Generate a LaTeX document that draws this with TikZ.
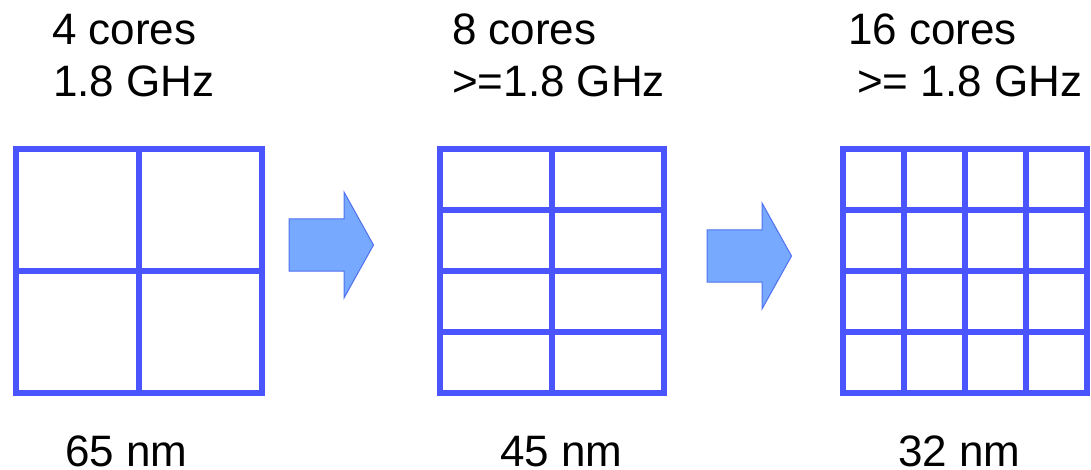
\documentclass[tikz,border=0pt]{standalone}
\usepackage{fontspec}
\setmainfont{Liberation Sans}
\definecolor{coreblue}{HTML}{4A55FF}
\definecolor{arrowfill}{HTML}{77AAFF}
\definecolor{arrowedge}{HTML}{5070F0}

\begin{document}
\begin{tikzpicture}[x=1pt, y=-1pt,
  gridline/.style={coreblue, line width=6.5pt},
  chiptext/.style={anchor=base west, inner sep=0pt, font=\fontsize{44}{50}\selectfont},
  blockarrow/.style={fill=arrowfill, draw=arrowedge, line width=1pt, line join=miter}]

\useasboundingbox (0,0) rectangle (1091,470);

% 65 nm chip: 4 cores
\draw[gridline] (16,149) rectangle (262,393);
\draw[gridline] (139,149) -- (139,393);
\draw[gridline] (16,271) -- (262,271);

% 45 nm chip: 8 cores
\draw[gridline] (440,149) rectangle (664,393);
\draw[gridline] (552,149) -- (552,393);
\foreach \y in {210,271,332}
  \draw[gridline] (440,\y) -- (664,\y);

% 32 nm chip: 16 cores
\draw[gridline] (843,149) rectangle (1087,393);
\foreach \x in {904,965,1026}
  \draw[gridline] (\x,149) -- (\x,393);
\foreach \y in {210,271,332}
  \draw[gridline] (843,\y) -- (1087,\y);

% Block arrows
\foreach \x/\y in {289/245, 707/256}
  \draw[blockarrow] (\x,\y-26) -- ++(55,0) -- ++(0,-27) -- ++(29.5,53)
    -- ++(-29.5,53) -- ++(0,-27) -- ++(-55,0) -- cycle;

% Core counts and clock
\node[chiptext] (cores4) at (52,45) {4 cores};
\node[chiptext] (clock4) at (53,97) {1.8 GHz};
\node[chiptext] (cores8) at (452,45) {8 cores};
\node[chiptext] (clock8) at (452,97) {>=1.8 GHz};
\node[chiptext] (cores16) at (848,45) {16 cores};
\node[chiptext] (clock16) at (857,97) {>= 1.8 GHz};

% Process nodes
\node[chiptext] (nm65) at (65,466) {65 nm};
\node[chiptext] (nm45) at (500,466) {45 nm};
\node[chiptext] (nm32) at (898,466) {32 nm};

\end{tikzpicture}
\end{document}
